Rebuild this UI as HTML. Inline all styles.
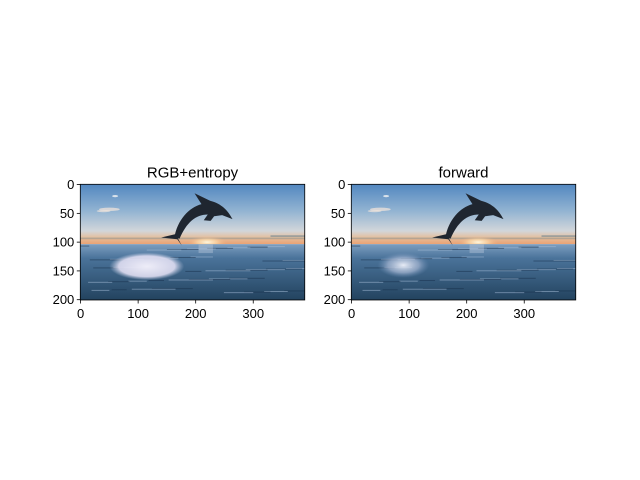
<!DOCTYPE html>
<html><head><meta charset="utf-8"><style>
body{margin:0;background:#fff}
svg{display:block;font-family:"Liberation Sans","DejaVu Sans",sans-serif}
</style></head><body>
<svg id="fig" width="640" height="480" viewBox="0 0 640 480" xmlns="http://www.w3.org/2000/svg">
<defs>
<clipPath id="imgclip"><rect x="-0.5" y="-0.5" width="390" height="201"/></clipPath>
<linearGradient id="sky" x1="0" y1="0" x2="0" y2="1">
<stop offset="0" stop-color="#5287c0"/><stop offset="0.45" stop-color="#93b4d2"/><stop offset="0.78" stop-color="#d2d6da"/><stop offset="0.9" stop-color="#e6bc98"/><stop offset="1" stop-color="#eaa274"/>
</linearGradient>
<linearGradient id="sea" x1="0" y1="0" x2="0" y2="1">
<stop offset="0" stop-color="#7d9ec0"/><stop offset="0.25" stop-color="#4a739a"/><stop offset="1" stop-color="#23435f"/>
</linearGradient>
<radialGradient id="sun"><stop offset="0" stop-color="#fff8e0"/><stop offset="0.5" stop-color="#fbd9a8" stop-opacity="0.7"/><stop offset="1" stop-color="#f0b080" stop-opacity="0"/></radialGradient>
<radialGradient id="splashL"><stop offset="0" stop-color="#eeedf8"/><stop offset="0.75" stop-color="#e0def2" stop-opacity="0.9"/><stop offset="1" stop-color="#b8c4dc" stop-opacity="0"/></radialGradient>
<radialGradient id="splashR"><stop offset="0" stop-color="#e8ecf6"/><stop offset="0.6" stop-color="#a8b8d4" stop-opacity="0.7"/><stop offset="1" stop-color="#7090b8" stop-opacity="0"/></radialGradient>
</defs>
<g id="axesL"></g>
<g id="axesR"></g>
</svg>
<script>
const xTicks=[0,100,200,300];
const yTicks=[0,50,100,150,200];
const imgW=390, imgH=201;
const titles=["RGB+entropy","forward"];
const NS="http://www.w3.org/2000/svg";
function mk(t,a,p){const e=document.createElementNS(NS,t);for(const k in a)e.setAttribute(k,a[k]);p.appendChild(e);return e;}
function draw(gid,x0,y0,title,splash){
  const g=document.getElementById(gid);
  
  
  const s=0.5755;
  const sx=v=>x0+(v+0.5)*s, sy=v=>y0+(v+0.5)*s;
  const outer=mk('g',{transform:`translate(${x0+0.5*s},${y0+0.5*s}) scale(${s})`},g);
  const img=mk('g',{'clip-path':'url(#imgclip)'},outer);
  
  
  mk('rect',{x:-0.5,y:-0.5,width:imgW,height:104,fill:'url(#sky)'},img);
  mk('ellipse',{cx:50,cy:43,rx:18,ry:3,fill:'#e8e0da',opacity:0.8},img);
  mk('ellipse',{cx:40,cy:46,rx:12,ry:2,fill:'#f2e6dc',opacity:0.7},img);
  mk('ellipse',{cx:60,cy:20,rx:5,ry:2,fill:'#f4f4f4',opacity:0.8},img);
  mk('rect',{x:-0.5,y:92,width:imgW,height:3,fill:'#5a7a8c',opacity:0.35},img);
  mk('rect',{x:330,y:88,width:60,height:3,fill:'#5a7a8c',opacity:0.5},img);
  mk('ellipse',{cx:220,cy:100,rx:35,ry:10,fill:'url(#sun)'},img);
  mk('rect',{x:-0.5,y:103.5,width:imgW,height:97,fill:'url(#sea)'},img);
  for(let i=0;i<40;i++){mk('rect',{x:(i*67)%370-10,y:106+(i*37)%92,width:25+(i*23)%55,height:1.6,fill:i%2?'#a6bed8':'#17304a',opacity:0.55},img);}
  mk('rect',{x:205,y:104,width:25,height:15,fill:'#c8d4e6',opacity:0.35},img);
  if(splash){mk('ellipse',{cx:115,cy:142,rx:65,ry:24,fill:'url(#splashL)'},img);}
  else{mk('ellipse',{cx:90,cy:140,rx:45,ry:22,fill:'url(#splashR)'},img);}
  mk('path',{d:'M140,92 L165,86 L176,106 L168,95 Z',fill:'#1f2630'},img);
  mk('path',{d:'M163,92 C168,62 188,40 210,34 L198,15 L225,28 C245,33 256,45 264,60 L246,53 L232,55 L226,63 L214,62 L221,52 C200,52 184,66 172,94 Z',fill:'#1f2630'},img);
  const f=mk('rect',{x:x0,y:y0,width:imgW*s,height:imgH*s,fill:'none',stroke:'#000','stroke-width':0.8},g);
  
  
  xTicks.forEach(t=>{
    mk('line',{x1:sx(t),x2:sx(t),y1:y0+imgH*s,y2:y0+imgH*s+3.5,stroke:'#000','stroke-width':0.8},g);
    const tx=mk('text',{x:sx(t),y:y0+imgH*s+18,'font-size':13,'text-anchor':'middle'},g);tx.textContent=t;
    
    
  });
  yTicks.forEach(t=>{
    mk('line',{x1:x0,x2:x0-3.5,y1:sy(t),y2:sy(t),stroke:'#000','stroke-width':0.8},g);
    const ty=mk('text',{x:x0-6,y:sy(t)+4.5,'font-size':13,'text-anchor':'end'},g);ty.textContent=t;
    
    
  });
  const tt=mk('text',{x:x0+imgW*s/2,y:y0-7,'font-size':15,'text-anchor':'middle'},g);tt.textContent=title;
  
  
}
draw('axesL',80.3,184.3,titles[0],true);
draw('axesR',351.3,184.3,titles[1],false);
</script>
</body></html>
